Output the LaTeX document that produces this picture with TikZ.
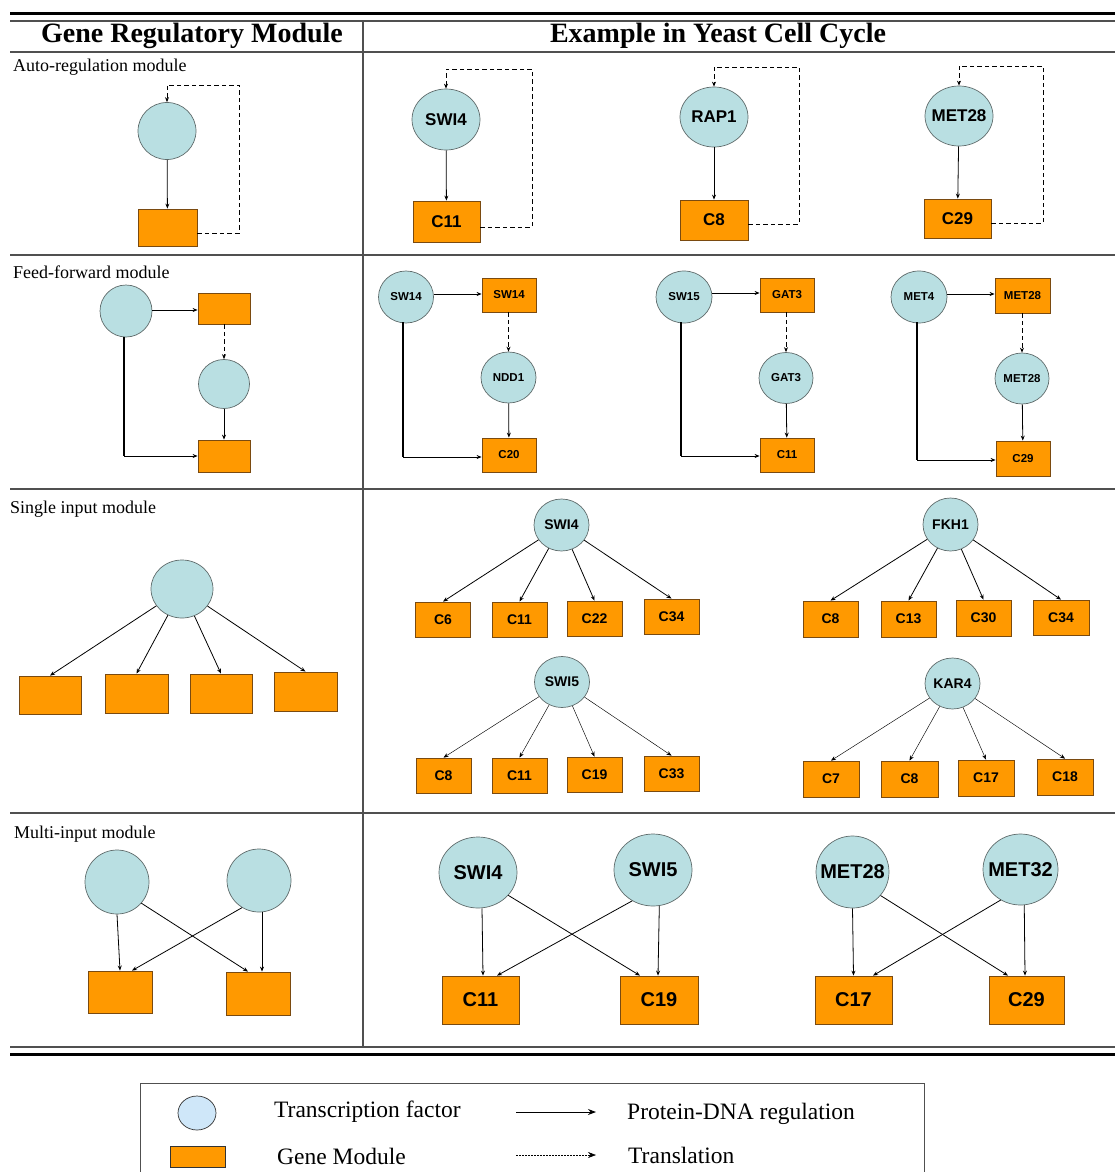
\documentclass[tikz,border=0pt]{standalone}
\usepackage{fontspec}
\setmainfont{Liberation Serif}
\newfontfamily\arialf{Liberation Sans}
\usetikzlibrary{shapes.geometric,arrows.meta,calc}
\definecolor{tf}{HTML}{B9DFE2}
\definecolor{gm}{HTML}{FF9900}
\definecolor{gmb}{HTML}{7A4A10}
\definecolor{tfb}{HTML}{5F6B6B}
\definecolor{rulec}{HTML}{505050}
\definecolor{lgtf}{HTML}{CFE7F9}
\newcommand\myAF[1]{\arialf\bfseries\fontsize{#1}{#1}\selectfont}
\newcommand\myTR[1]{\fontsize{#1}{#1}\selectfont}
\tikzset{
  tfn/.style={ellipse, draw=tfb, fill=tf, line width=0.7pt, inner sep=0pt},
  gmn/.style={rectangle, draw=gmb, fill=gm, line width=0.8pt, inner sep=0pt},
  arr/.style={-{Stealth[length=5pt,width=4pt]}, line width=0.8pt},
  thinarr/.style={-{Stealth[length=5pt,width=4pt]}, line width=0.45pt},
  darr/.style={-{Stealth[length=5pt,width=4pt]}, line width=0.8pt, dash pattern=on 4.5pt off 3pt},
  tline/.style={draw=rulec, line width=1.2pt},
  bline/.style={draw=black, line width=3pt},
  lab/.style={anchor=west, inner sep=0pt, font=\myTR{18}},
  hdr/.style={inner sep=0pt, font=\bfseries\myTR{28}},
  lg/.style={anchor=west, inner sep=0pt, font=\myTR{23.5}}
}
\begin{document}
\begin{tikzpicture}[x=1pt,y=-1pt]
\useasboundingbox (0,0) rectangle (1115,1172);
% ---------- table rules ----------
\draw[bline] (10,14) -- (1115,14);
\draw[tline] (10,21) -- (1115,21);
\draw[tline] (10,52) -- (1115,52);
\draw[tline] (10,255) -- (1115,255);
\draw[tline] (10,489) -- (1115,489);
\draw[tline] (10,813) -- (1115,813);
\draw[tline] (10,1047) -- (1115,1047);
\draw[bline] (10,1054) -- (1115,1054);
\draw[tline] (363,21) -- (363,1047);
% ---------- headers ----------
\node[hdr] (h1) at (192,36) {Gene Regulatory Module};
\node[hdr] (h2) at (718,36) {Example in Yeast Cell Cycle};
\node[lab] (l1) at (13,67) {Auto-regulation module};
\node[lab] (l2) at (13,272) {Feed-forward module};
\node[lab] (l3) at (10,509) {Single input module};
\node[lab] (l4) at (14,834) {Multi-input module};
% ---------- row 1: auto-regulation ----------
\node[tfn, minimum width=58pt, minimum height=57pt] (ac) at (167,131) {};
\node[gmn, minimum width=59pt, minimum height=37pt] (ar) at (167.5,227.5) {};
\draw[arr] (ac) -- (ar);
\draw[darr] (ar.east |- 0,233) -- (239,233) -- (239,85) -| (ac.north);

\begin{scope}[every node/.append style={font=\myAF{17}}, every label/.append style={font=\myAF{17}}]
\node[tfn, minimum width=68pt, minimum height=61pt, label={center:SWI4}] (a1) at (446,119.5) {};
\node[gmn, minimum width=67pt, minimum height=41pt] (a1c) at (446.5,221.5) {C11};
\node[tfn, minimum width=68pt, minimum height=60pt, label={center:RAP1}] (a2) at (714,117) {};
\node[gmn, minimum width=68pt, minimum height=40pt] (a2c) at (714,220) {C8};
\node[tfn, minimum width=68pt, minimum height=60pt, label={center:MET28}] (a3) at (959,116) {};
\node[gmn, minimum width=67pt, minimum height=39pt] (a3c) at (957.5,218.5) {C29};
\end{scope}
\draw[arr] (a1) -- (a1c);
\draw[darr] (a1c.east |- 0,227) -- (532,227) -- (532,69) -| (a1.north);
\draw[arr] (a2) -- (a2c);
\draw[darr] (a2c.east |- 0,224) -- (799,224) -- (799,67) -| (a2.north);
\draw[arr] (a3) -- (a3c);
\draw[darr] (a3c.east |- 0,223) -- (1043,223) -- (1043,66) -| (a3.north);
% ---------- row 2: feed-forward ----------
\node[tfn, minimum width=52pt, minimum height=52pt] (f1) at (126,311) {};
\node[gmn, minimum width=52pt, minimum height=31pt] (fr1) at (224,308.5) {};
\node[tfn, minimum width=51pt, minimum height=49pt] (f2) at (224,384) {};
\node[gmn, minimum width=52pt, minimum height=32pt] (fr2) at (224,456) {};
\draw[arr] (f1.east |- 0,310) -- (fr1.west |- 0,310);
\draw[darr] (fr1.south) -- (f2.north);
\draw[arr] (f2) -- (fr2);
\draw[line width=1.6pt] ($(f1.south)+(-2,0)$) -- ($(f1.south |- fr2.west)+(-2,0)$);
\draw[arr] ($(f1.south |- fr2.west)+(-2,0)$) -- (fr2.west);

\begin{scope}[every node/.append style={font=\myAF{11.5}}, every label/.append style={font=\myAF{11.5}}]
\node[tfn, minimum width=55pt, minimum height=52pt, label={center:SW14}] (e1) at (406,297) {};
\node[gmn, minimum width=54pt, minimum height=34pt] (er1) at (509,295) {SW14};
\node[tfn, minimum width=55pt, minimum height=51pt, label={center:NDD1}] (e2) at (508.5,377.5) {};
\node[gmn, minimum width=54pt, minimum height=34pt] (er2) at (509,455) {C20};
\node[tfn, minimum width=56pt, minimum height=52pt, label={center:SW15}] (g1) at (684,297) {};
\node[gmn, minimum width=54pt, minimum height=34pt] (gr1) at (787,295) {GAT3};
\node[tfn, minimum width=54pt, minimum height=51pt, label={center:GAT3}] (g2) at (786,378) {};
\node[gmn, minimum width=54pt, minimum height=34pt] (gr2) at (787,455) {C11};
\node[tfn, minimum width=56pt, minimum height=52pt, label={center:MET4}] (m1) at (919,297) {};
\node[gmn, minimum width=55pt, minimum height=35pt] (mr1) at (1022.5,295.5) {MET28};
\node[tfn, minimum width=54pt, minimum height=51pt, label={center:MET28}] (m2) at (1022,378.5) {};
\node[gmn, minimum width=54pt, minimum height=35pt] (mr2) at (1023,458.5) {C29};
\end{scope}
\draw[arr] (e1.east |- 0,294) -- (er1.west |- 0,294);
\draw[darr] (er1.south -| e2.north) -- (e2.north);
\draw[arr] (e2) -- (er2);
\draw[line width=1.6pt] ($(e1.south)+(-3,-1)$) -- (403,457);
\draw[arr] (403,457) -- (er2.west |- 0,457);
\draw[arr] (g1.east |- 0,293) -- (gr1.west |- 0,293);
\draw[darr] (gr1.south -| g2.north) -- (g2.north);
\draw[arr] (g2) -- (gr2);
\draw[line width=1.6pt] ($(g1.south)+(-3,-1)$) -- (681,456);
\draw[arr] (681,456) -- (gr2.west |- 0,456);
\draw[arr] (m1.east |- 0,294) -- (mr1.west |- 0,294);
\draw[darr] (mr1.south -| m2.north) -- (m2.north);
\draw[arr] (m2) -- (mr2);
\draw[line width=1.6pt] ($(m1.south)+(-2,-1)$) -- (917,460);
\draw[arr] (917,460) -- (mr2.west |- 0,460);
% ---------- row 3: single input ----------
\node[tfn, minimum width=62pt, minimum height=58pt] (s0) at (182,589) {};
\node[gmn, minimum width=62pt, minimum height=38pt] (sr1) at (50,695) {};
\node[gmn, minimum width=63pt, minimum height=39pt] (sr2) at (136.5,693.5) {};
\node[gmn, minimum width=62pt, minimum height=39pt] (sr3) at (221,693.5) {};
\node[gmn, minimum width=63pt, minimum height=39pt] (sr4) at (305.5,691.5) {};
\foreach \t in {sr1,sr2,sr3,sr4} \draw[arr] (s0) -- (\t.north);

\begin{scope}[every node/.append style={font=\myAF{14}}, every label/.append style={font=\myAF{14}}]
\node[tfn, minimum width=55pt, minimum height=52pt, label={center:SWI4}] (p1) at (561.5,525) {};
\node[gmn, minimum width=55pt, minimum height=35pt] (p1a) at (443,619.5) {C6};
\node[gmn, minimum width=55pt, minimum height=35pt] (p1b) at (519.5,619.5) {C11};
\node[gmn, minimum width=55pt, minimum height=35pt] (p1c) at (594.5,618.5) {C22};
\node[gmn, minimum width=55pt, minimum height=35pt] (p1d) at (671.5,616.5) {C34};
\node[tfn, minimum width=55pt, minimum height=51pt, label={center:SWI5}] (p2) at (562,682) {};
\node[gmn, minimum width=55pt, minimum height=35pt] (p2a) at (443.5,775.5) {C8};
\node[gmn, minimum width=55pt, minimum height=35pt] (p2b) at (519.5,775.5) {C11};
\node[gmn, minimum width=55pt, minimum height=35pt] (p2c) at (594.5,774.5) {C19};
\node[gmn, minimum width=55pt, minimum height=35pt] (p2d) at (671.5,773.5) {C33};
\node[tfn, minimum width=55pt, minimum height=53pt, label={center:FKH1}] (p3) at (950.5,524.5) {};
\node[gmn, minimum width=55pt, minimum height=36pt] (p3a) at (830.5,619) {C8};
\node[gmn, minimum width=55pt, minimum height=36pt] (p3b) at (908.5,619) {C13};
\node[gmn, minimum width=55pt, minimum height=36pt] (p3c) at (983.5,618) {C30};
\node[gmn, minimum width=56pt, minimum height=35pt] (p3d) at (1061,617.5) {C34};
\node[tfn, minimum width=55pt, minimum height=51pt, label={center:KAR4}] (p4) at (952.5,683.5) {};
\node[gmn, minimum width=56pt, minimum height=36pt] (p4a) at (831,779) {C7};
\node[gmn, minimum width=57pt, minimum height=36pt] (p4b) at (909.5,779) {C8};
\node[gmn, minimum width=56pt, minimum height=36pt] (p4c) at (986,778) {C17};
\node[gmn, minimum width=56pt, minimum height=36pt] (p4d) at (1065,777) {C18};
\end{scope}
\foreach \t in {p1a,p1b,p1c,p1d} \draw[arr] (p1) -- (\t.north);
\foreach \t in {p2a,p2b,p2c,p2d} \draw[thinarr] (p2) -- (\t.north);
\foreach \t in {p3a,p3b,p3c,p3d} \draw[arr] (p3) -- (\t.north);
\foreach \t in {p4a,p4b,p4c,p4d} \draw[thinarr] (p4) -- (\t.north);
% ---------- row 4: multi-input ----------
\node[tfn, minimum width=64pt, minimum height=64pt] (q1) at (117,882) {};
\node[tfn, minimum width=64pt, minimum height=63pt] (q2) at (259,880.5) {};
\node[gmn, minimum width=64pt, minimum height=42pt] (qr1) at (120,992) {};
\node[gmn, minimum width=64pt, minimum height=43pt] (qr2) at (258,993.5) {};
\draw[arr] (q1.south) -- (qr1.north);
\draw[arr] (q1.-41) -- ($(qr2.north)+(-10,0)$);
\draw[arr] (q2.-122) -- ($(qr1.north)+(12,0)$);
\draw[arr] ($(q2.south)+(3,0)$) -- ($(qr2.north)+(4,0)$);

\begin{scope}[every node/.append style={font=\myAF{20}}, every label/.append style={font=\myAF{20}}]
\node[tfn, minimum width=78pt, minimum height=71pt, label={center:SWI4}] (w1) at (478,872.5) {};
\node[tfn, minimum width=78pt, minimum height=72pt, label={center:SWI5}] (w2) at (653,870) {};
\node[tfn, minimum width=73pt, minimum height=72pt, label={center:MET28}] (w3) at (852.5,872) {};
\node[tfn, minimum width=75pt, minimum height=71pt, label={center:MET32}] (w4) at (1020.5,869.5) {};
\node[gmn, minimum width=77pt, minimum height=48pt] (wc1) at (480.5,1000) {C11};
\node[gmn, minimum width=78pt, minimum height=48pt] (wc2) at (659,1000) {C19};
\node[gmn, minimum width=77pt, minimum height=48pt] (wc3) at (853.5,1000) {C17};
\node[gmn, minimum width=75pt, minimum height=48pt] (wc4) at (1026.5,1000) {C29};
\end{scope}
\draw[arr] ($(w1.south)+(4,0)$) -- ($(wc1.north)+(2.5,0)$);
\draw[arr] (w1.-37) -- ($(wc2.north)+(-19,0)$);
\draw[arr] (w2.-124) -- ($(wc1.north)+(16.5,0)$);
\draw[arr] (w2.-80) -- ($(wc2.north)+(-1,0)$);
\draw[arr] (w3.south) -- (wc3.north);
\draw[arr] (w3.-40) -- ($(wc4.north)+(-18.5,0)$);
\draw[arr] (w4.-123) -- ($(wc3.north)+(19.5,0)$);
\draw[arr] (w4.-84) -- ($(wc4.north)+(-1.5,0)$);
% ---------- legend ----------
\draw[draw=rulec, line width=1pt] (140,1172) -- (140,1083) -- (924,1083) -- (924,1172);
\node[ellipse, draw=black!80, fill=lgtf, line width=0.7pt, minimum width=38pt, minimum height=34pt, inner sep=0pt] (lge) at (197,1113) {};
\node[gmn, draw=black!80, minimum width=55pt, minimum height=21pt] (lgr) at (197.5,1156.5) {};
\node[lg] (lt1) at (274,1112) {Transcription factor};
\node[lg] (lt2) at (277,1156) {Gene Module};
\node[lg] (lt3) at (627,1114) {Protein-DNA regulation};
\node[lg] (lt4) at (628,1155) {Translation};
\coordinate (la1) at (516,1112);
\coordinate (la2) at (596,1112);
\coordinate (lb1) at (516,1155);
\coordinate (lb2) at (596,1155);
\draw[-{Stealth[length=8pt,width=6pt]}, line width=0.9pt] (la1) -- (la2);
\draw[-{Stealth[length=8pt,width=6pt]}, line width=0.6pt, dash pattern=on 2pt off 1pt] (lb1) -- (lb2);
\end{tikzpicture}
\end{document}
